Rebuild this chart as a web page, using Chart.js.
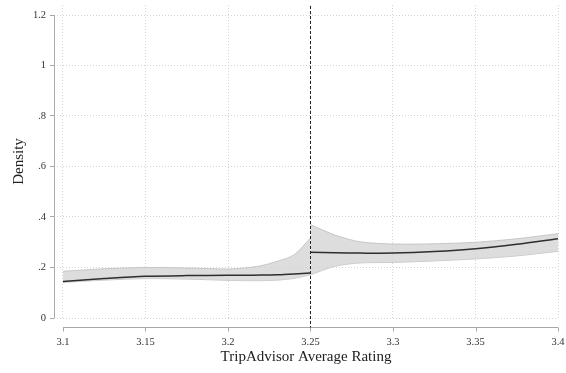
<!DOCTYPE html>
<html>
<head>
<meta charset="utf-8">
<script src="https://cdn.jsdelivr.net/npm/chart.js@4/dist/chart.umd.min.js"></script>
<style>
  html, body { margin: 0; padding: 0; background: #fff; }
  #wrap { width: 566px; height: 373px; }
</style>
</head>
<body>
<div id="wrap"><canvas id="c" width="566" height="373"></canvas></div>
<script>
// ratings below the 3.25 cutoff
const leftX     = [3.1, 3.125, 3.15, 3.175, 3.2, 3.21, 3.22, 3.23, 3.24, 3.25];
const leftFit   = [0.145, 0.156, 0.165, 0.168, 0.169, 0.169, 0.170, 0.171, 0.174, 0.178];
const leftUpper = [0.185, 0.195, 0.200, 0.198, 0.194, 0.198, 0.207, 0.225, 0.250, 0.317];
const leftLower = [0.141, 0.150, 0.156, 0.154, 0.149, 0.148, 0.148, 0.150, 0.157, 0.171];

// ratings above the cutoff
const rightX     = [3.25, 3.265, 3.28, 3.3, 3.325, 3.35, 3.375, 3.4];
const rightFit   = [0.260, 0.258, 0.257, 0.257, 0.263, 0.274, 0.292, 0.314];
const rightUpper = [0.370, 0.328, 0.302, 0.293, 0.294, 0.300, 0.314, 0.334];
const rightLower = [0.171, 0.205, 0.218, 0.220, 0.226, 0.234, 0.246, 0.264];

const xTicks = [3.1, 3.15, 3.2, 3.25, 3.3, 3.35, 3.4];
const yTicks = [0, 0.2, 0.4, 0.6, 0.8, 1, 1.2];
const cutoff = 3.25;

const pts = (xs, ys) => xs.map((x, i) => ({ x: x, y: ys[i] }));
const font = 'Georgia, "Liberation Serif", "DejaVu Serif", serif';

const band = (data, fill) => ({
  data, fill, order: 2, borderColor: '#bcbcbc', borderWidth: 0.8,
  backgroundColor: 'rgba(210,210,210,0.75)', pointRadius: 0, tension: 0.3
});
const fit = data => ({
  data, fill: false, order: 1, borderColor: '#2e2e2e', borderWidth: 1.5, pointRadius: 0, tension: 0.3
});

// stata-style detached axes + cutoff line
const axes = {
  id: 'axes',
  afterDatasetsDraw(chart) {
    const { ctx, chartArea: a, scales: { x, y } } = chart;
    ctx.save();
    ctx.strokeStyle = '#a8a8a8';
    ctx.lineWidth = 1;
    ctx.beginPath();
    ctx.moveTo(a.left + 0.5, y.getPixelForValue(1.2));
    ctx.lineTo(a.left + 0.5, y.getPixelForValue(0));
    const ay = a.bottom + 9.5;
    ctx.moveTo(x.getPixelForValue(3.1), ay);
    ctx.lineTo(x.getPixelForValue(3.4), ay);
    xTicks.forEach(t => {
      const px = Math.round(x.getPixelForValue(t)) + 0.5;
      ctx.moveTo(px, ay);
      ctx.lineTo(px, ay + 4);
    });
    ctx.stroke();

    const cx = Math.round(x.getPixelForValue(cutoff)) + 0.5;
    ctx.strokeStyle = '#222';
    ctx.setLineDash([3, 2]);
    ctx.beginPath();
    ctx.moveTo(cx, a.top + 1);
    ctx.lineTo(cx, ay);
    ctx.stroke();
    ctx.restore();
  }
};

new Chart(document.getElementById('c').getContext('2d'), {
  type: 'line',
  data: {
    datasets: [
      band(pts(leftX, leftUpper), '+1'),
      band(pts(leftX, leftLower), false),
      band(pts(rightX, rightUpper), '+1'),
      band(pts(rightX, rightLower), false),
      fit(pts(leftX, leftFit)),
      fit(pts(rightX, rightFit))
    ]
  },
  options: {
    responsive: false,
    animation: false,
    layout: { padding: { left: 0, right: 8, top: 5, bottom: 0 } },
    plugins: { legend: { display: false }, tooltip: { enabled: false } },
    scales: {
      x: {
        type: 'linear',
        min: 3.1 - 9 / 1650,
        max: 3.4,
        afterBuildTicks: s => { s.ticks = xTicks.map(v => ({ value: v })); },
        afterFit: s => { s.height = 55; s.paddingLeft = 0; s.paddingRight = 0; },
        border: { display: false, dash: [1, 2] },
        grid: { color: '#d4d4d4', drawTicks: false, lineWidth: 1 },
        ticks: {
          padding: 18, color: '#333',
          font: { family: font, size: 10.5 },
          callback: v => String(v)
        },
        title: {
          display: true, text: 'TripAdvisor Average Rating', color: '#222',
          font: { family: font, size: 15 }, padding: { top: 0, bottom: 7 }
        }
      },
      y: {
        min: 0,
        max: 1.2 + 10 / 252.5,
        afterBuildTicks: s => { s.ticks = yTicks.map(v => ({ value: v })); },
        afterFit: s => { s.width = 54; s.paddingTop = 0; s.paddingBottom = 0; },
        border: { display: false, dash: [1, 2] },
        grid: {
          color: '#d4d4d4', tickLength: 4,
          tickColor: '#a8a8a8', tickBorderDash: [], drawTicks: true
        },
        ticks: {
          padding: 4, color: '#333',
          font: { family: font, size: 10.5 },
          callback: v => v === 0 ? '0' : String(v).replace(/^0\./, '.')
        },
        title: {
          display: true, text: 'Density', color: '#222',
          font: { family: font, size: 15 }, padding: { top: 10, bottom: 0 }
        }
      }
    }
  },
  plugins: [axes]
});
</script>
</body>
</html>
